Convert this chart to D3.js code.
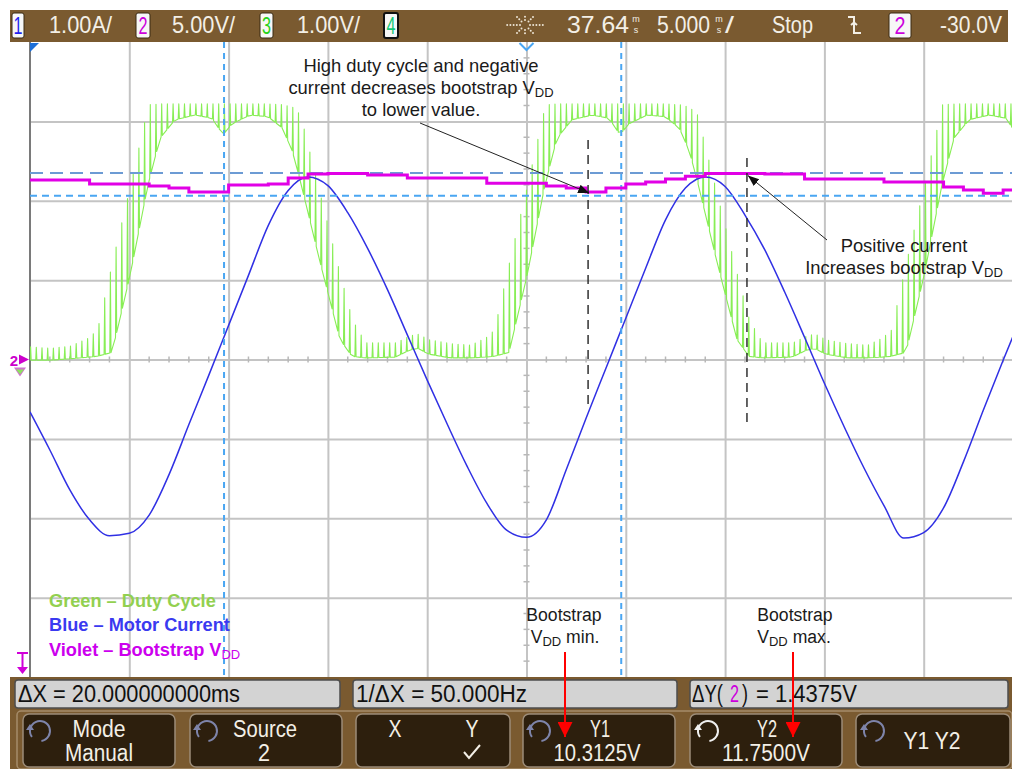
<!DOCTYPE html>
<html>
<head>
<meta charset="utf-8">
<script src="https://cdn.jsdelivr.net/npm/d3@7/dist/d3.min.js"></script>
<style>
  html, body { margin: 0; padding: 0; background: #fff; }
  svg { display: block; }
  text { font-family: "Liberation Sans", Arial, Helvetica, sans-serif; }
</style>
</head>
<body>
<svg id="scope" width="1012" height="769"></svg>
<script>
// ---------- captured data (5 ms/div, 10 div on screen) ----------
// Sample times for channel 1 and channel 2 (ms from left edge of screen)
const sampleMs = [0,1,2,3,4,5,6,7,8,9,10,11,12,13,14,15,16,17,18,19,20,21,22,23,24,25,
  26,27,28,29,30,31,32,33,34,35,36,37,38,39,40,41,42,43,44,45,46,47,48,49,50];

// Channel 1: motor phase current (A), 1.00 A/div
const motorCurrentA = [-0.66,-1.14,-1.64,-2.02,-2.22,-2.19,-1.96,-1.45,-0.82,-0.20,0.43,1.06,
  1.69,2.13,2.30,2.19,1.85,1.40,0.88,0.31,-0.26,-0.81,-1.34,-1.81,-2.15,-2.24,-2.02,-1.39,
  -0.74,-0.11,0.52,1.15,1.76,2.16,2.30,2.18,1.82,1.38,0.85,0.28,-0.30,-0.85,-1.37,-1.84,
  -2.25,-2.18,-1.87,-1.29,-0.64,-0.01,0.60];

// Channel 2: bootstrap supply VDD (V), 5.00 V/div
const bootstrapV = [11.30,11.30,11.30,11.05,11.05,11.05,10.93,10.80,10.55,10.55,10.99,10.99,
  11.05,11.43,11.68,11.71,11.71,11.62,11.62,11.43,11.43,11.43,11.43,11.11,11.11,11.11,10.93,
  10.80,10.55,10.80,11.05,11.18,11.37,11.55,11.71,11.71,11.71,11.68,11.68,11.37,11.37,11.37,
  11.37,11.18,11.18,11.18,10.86,10.67,10.48,10.67,10.99];

// Channel 3: filtered duty-cycle signal (V), 1.00 V/div — PWM ripple envelope
const dutyMs = [0,1.01,2.01,2.92,3.37,4.13,5.04,5.94,6.55,7.30,8.31,9.16,9.72,10.17,11.08,
  11.98,12.69,13.19,13.60,14.60,15.61,16.21,16.87,18.38,19.13,19.54,20.04,21.15,22.16,22.91,
  23.36,24.12,25.03,25.93,26.54,27.29,28.30,29.15,29.71,30.16,31.07,31.97,32.68,33.18,33.59,
  34.59,35.60,36.20,36.86,38.37,39.12,39.53,40.03,41.14,42.15,42.90,43.35,44.11,45.02,45.92,
  46.53,47.28,48.29,49.14,49.70,50.00];
const dutyLowV = [-0.01,-0.01,0.01,0.03,0.04,0.09,1.06,2.20,2.79,3.02,3.08,3.04,2.83,2.97,3.08,
  3.06,2.92,2.64,2.26,1.23,0.25,0.04,0.02,0.03,0.12,0.14,0.07,0.02,0.02,0.03,0.04,0.09,1.06,
  2.20,2.79,3.02,3.08,3.04,2.83,2.97,3.08,3.06,2.92,2.64,2.26,1.23,0.25,0.04,0.02,0.03,0.12,
  0.14,0.07,0.02,0.02,0.03,0.04,0.09,1.06,2.20,2.79,3.02,3.08,3.04,2.83,2.92];
const dutyHighV = [0.16,0.14,0.17,0.27,0.37,1.23,2.20,3.21,3.22,3.22,3.22,3.22,3.22,3.22,3.22,
  3.22,3.21,3.18,3.08,2.07,1.06,0.50,0.21,0.21,0.30,0.32,0.25,0.20,0.18,0.27,0.37,1.23,2.20,
  3.21,3.22,3.22,3.22,3.22,3.22,3.22,3.22,3.22,3.21,3.18,3.08,2.07,1.06,0.50,0.21,0.21,0.30,
  0.32,0.25,0.20,0.18,0.27,0.37,1.23,2.20,3.21,3.22,3.22,3.22,3.22,3.22,3.22];
const pwmPeriodMs = 0.287;

// Cursors
const cursorXMs = [9.77, 29.77];          // X1, X2
const cursorYV = [10.3125, 11.75];        // Y1, Y2 on channel 2

// Annotated instants: VDD minimum and VDD maximum
const markMinMs = 28, markMaxMs = 36;

// Status-line texts
const chanScales = ["1.00A/", "5.00V/", "1.00V/"];
const measureTexts = ["ΔX = 20.000000000ms", "1/ΔX = 50.000Hz"];

// ---------- layout ----------
const svg = d3.select("#scope");
const plotL = 30, plotR = 1012, plotT = 42, plotB = 677;
const x = d3.scaleLinear().domain([0, 50]).range([30, 1023]);
const yDiv = d3.scaleLinear().domain([-4, 4]).range([plotB, plotT]);
const chan = {
  current: { perDiv: 1, offset: 0 },
  vdd:     { perDiv: 5, offset: 0 },
  duty:    { perDiv: 1, offset: 0 }
};
const yOf = c => v => yDiv(v / c.perDiv + c.offset);
const yCur = yOf(chan.current), yVdd = yOf(chan.vdd), yDuty = yOf(chan.duty);

svg.append("rect").attr("width", 1012).attr("height", 769).attr("fill", "#fff");

const defs = svg.append("defs");
defs.append("clipPath").attr("id", "plotClip")
  .append("rect").attr("x", plotL).attr("y", plotT).attr("width", plotR - plotL).attr("height", plotB - plotT);

// ---------- graticule ----------
const grid = svg.append("g");
grid.append("g").attr("transform", `translate(0,${plotB})`)
  .call(d3.axisBottom(x).tickValues([5,10,15,20,25,30,35,40,45]).tickSize(-(plotB - plotT)).tickFormat(""));
grid.append("g").attr("transform", `translate(${plotL},0)`)
  .call(d3.axisLeft(yDiv).tickValues([-3,-2,-1,0,1,2,3]).tickSize(-(plotR - plotL)).tickFormat(""));
grid.selectAll(".domain").remove();
grid.selectAll(".tick line").attr("stroke", "#c4c4c4").attr("stroke-width", 2);

// minor ticks on the centre lines
const minorT = d3.range(0, 50.01, 1);
const minorG = svg.append("g").attr("stroke", "#b8b8b8").attr("stroke-width", 1.5);
minorG.selectAll("line.mh").data(minorT.filter(t => t % 5 !== 0)).join("line")
  .attr("x1", d => x(d)).attr("x2", d => x(d))
  .attr("y1", yDiv(0) - 3).attr("y2", yDiv(0) + 3);
const minorV = d3.range(-4, 4.01, 0.2).filter(v => Math.abs(v - Math.round(v)) > 0.01);
minorG.selectAll("line.mv").data(minorV).join("line")
  .attr("x1", x(25) - 3).attr("x2", x(25) + 3)
  .attr("y1", d => yDiv(d)).attr("y2", d => yDiv(d));

// left border of the screen
svg.append("line").attr("x1", plotL).attr("x2", plotL).attr("y1", plotT).attr("y2", plotB)
  .attr("stroke", "#7a7a7a").attr("stroke-width", 2);

// ---------- traces ----------
const traces = svg.append("g").attr("clip-path", "url(#plotClip)");

// Channel 3: PWM comb between low and high envelope
const lowAt = d3.scaleLinear().domain(dutyMs).range(dutyLowV);
const highAt = d3.scaleLinear().domain(dutyMs).range(dutyHighV);
const combPath = d3.path();
combPath.moveTo(x(0), yDuty(lowAt(0)));
for (let t = 0; t <= 50; t += pwmPeriodMs) {
  const xt = x(t);
  combPath.lineTo(xt, yDuty(lowAt(t)));
  combPath.lineTo(xt + 0.6, yDuty(highAt(t)));
  combPath.lineTo(xt + 1.2, yDuty(lowAt(Math.min(50, t + 0.06))));
}
traces.append("path").attr("d", combPath.toString())
  .attr("fill", "none").attr("stroke", "#88ee55").attr("stroke-width", 1.1).attr("stroke-linejoin", "round");

// Channel 1: motor current
traces.append("path").datum(sampleMs)
  .attr("d", d3.line().x(t => x(t)).y((t, i) => yCur(motorCurrentA[i])).curve(d3.curveMonotoneX))
  .attr("fill", "none").attr("stroke", "#3030e4").attr("stroke-width", 1.5);

// ---------- cursors ----------
const cur = svg.append("g").attr("clip-path", "url(#plotClip)");
cur.selectAll("line.cx").data(cursorXMs).join("line")
  .attr("x1", d => x(d)).attr("x2", d => x(d)).attr("y1", plotT).attr("y2", plotB)
  .attr("stroke", "#4aa6f2").attr("stroke-width", 2).attr("stroke-dasharray", "6 5");
cur.append("line").attr("x1", plotL).attr("x2", plotR)
  .attr("y1", yVdd(cursorYV[0])).attr("y2", yVdd(cursorYV[0]))
  .attr("stroke", "#4aa6f2").attr("stroke-width", 2).attr("stroke-dasharray", "7 5");
cur.append("line").attr("x1", plotL).attr("x2", plotR)
  .attr("y1", yVdd(cursorYV[1])).attr("y2", yVdd(cursorYV[1]))
  .attr("stroke", "#6c9bd4").attr("stroke-width", 2).attr("stroke-dasharray", "13 7");

// Channel 2: bootstrap VDD (drawn on top)
svg.append("g").attr("clip-path", "url(#plotClip)").append("path").datum(sampleMs)
  .attr("d", d3.line().x(t => x(t)).y((t, i) => yVdd(bootstrapV[i])).curve(d3.curveStepAfter))
  .attr("fill", "none").attr("stroke", "#e100e6").attr("stroke-width", 3);

// ---------- screen markers ----------
const mk = svg.append("g");
mk.append("path").attr("d", `M${plotL},${plotT + 1} h9 l-9,9 z`).attr("fill", "#1c6fd8");
mk.append("path").attr("d", `M${x(25) - 7},${plotT + 1} l7,7 l7,-7`).attr("fill", "none")
  .attr("stroke", "#4aa6f2").attr("stroke-width", 2);
// channel 2 / channel 3 ground markers
mk.append("text").attr("x", 14).attr("y", yDiv(0) + 6).attr("text-anchor", "middle")
  .attr("fill", "#cc00cc").style("font-size", "15px").style("font-weight", "bold").text("2");
mk.append("path").attr("d", `M19,${yDiv(0) - 5} l10,5 l-10,5 z`).attr("fill", "#cc00cc");
mk.append("path").attr("d", `M14,${yDiv(0) + 8} h12 l-6,9 z`).attr("fill", "#d070d0");
mk.append("path").attr("d", `M16,${yDiv(0) + 10} h8 l-4,5 z`).attr("fill", "#8ee060");
// trigger level marker
mk.append("path").attr("d", "M17,653 h11 M22.5,653 v16").attr("stroke", "#d000d8").attr("stroke-width", 2);
mk.append("path").attr("d", "M17,667 h11 l-5.5,7 z").attr("fill", "#d000d8");

// ---------- annotations ----------
const ann = svg.append("g").attr("fill", "#1a1a1a").style("font-size", "18.4px");
defs.append("marker").attr("id", "ah").attr("viewBox", "0 0 10 10")
  .attr("refX", 10).attr("refY", 5).attr("markerWidth", 11).attr("markerHeight", 11)
  .attr("orient", "auto").attr("markerUnits", "userSpaceOnUse")
  .append("path").attr("d", "M0,1 L10,5 L0,9 z").attr("fill", "#111");

function subText(g, xc, yb, main, sub, after, opts = {}) {
  const t = g.append("text").attr("x", xc).attr("y", yb).attr("text-anchor", opts.anchor || "middle");
  if (opts.fill) t.attr("fill", opts.fill);
  if (opts.weight) t.style("font-weight", opts.weight);
  t.append("tspan").text(main);
  if (sub) {
    t.append("tspan").attr("dy", 3).style("font-size", "13px").text(sub);
    if (after) t.append("tspan").attr("dy", -3).text(after);
  }
  return t;
}

subText(ann, 421, 72, "High duty cycle and negative");
subText(ann, 421, 94, "current decreases bootstrap V", "DD");
subText(ann, 421, 116, "to lower value.");
subText(ann, 904, 252, "Positive current");
subText(ann, 904, 274, "Increases bootstrap V", "DD");
const annSmall = ann.append("g").style("font-size", "17.6px");
subText(annSmall, 564, 621, "Bootstrap");
subText(annSmall, 565, 643, "V", "DD", " min.");
subText(annSmall, 795, 621, "Bootstrap");
subText(annSmall, 794, 643, "V", "DD", " max.");

// dashed instant markers
[[markMinMs, 140, 410], [markMaxMs, 158, 425]].forEach(([t, y1, y2]) => {
  ann.append("line").attr("x1", x(t) + 2).attr("x2", x(t) + 2).attr("y1", y1).attr("y2", y2)
    .attr("stroke", "#222").attr("stroke-width", 1.4).attr("stroke-dasharray", "9 6");
});
ann.append("line").attr("x1", 420).attr("y1", 123).attr("x2", x(markMinMs) + 3).attr("y2", yVdd(bootstrapV[markMinMs]) + 1)
  .attr("stroke", "#222").attr("stroke-width", 1).attr("marker-end", "url(#ah)");
ann.append("line").attr("x1", 827).attr("y1", 240).attr("x2", x(markMaxMs) + 3).attr("y2", yVdd(bootstrapV[markMaxMs]) + 2)
  .attr("stroke", "#222").attr("stroke-width", 1).attr("marker-end", "url(#ah)");

// legend
const leg = svg.append("g").style("font-size", "18.2px").style("font-weight", "bold");
subText(leg, 49, 607, "Green – Duty Cycle", null, null, { anchor: "start", fill: "#92d050", weight: "bold" });
subText(leg, 49, 631, "Blue – Motor Current", null, null, { anchor: "start", fill: "#3a3af0", weight: "bold" });
const vl = subText(leg, 49, 656, "Violet – Bootstrap V", null, null, { anchor: "start", fill: "#cc00ee", weight: "bold" });
vl.append("tspan").attr("dy", 3).style("font-size", "13px").style("font-weight", "normal").text("DD");

// ---------- status line ----------
const brown = "#7a5a30", ink = "#f3efe6";
const statusBar = svg.append("g");
statusBar.append("rect").attr("x", 10).attr("y", 10).attr("width", 998).attr("height", 32).attr("fill", brown);

function uiText(g, xl, yb, str, len, opts = {}) {
  const t = g.append("text").attr("x", xl).attr("y", yb).attr("fill", opts.fill || ink)
    .style("font-size", (opts.size || 24) + "px").attr("text-anchor", opts.anchor || "start").text(str);
  if (len) t.attr("textLength", len).attr("lengthAdjust", "spacingAndGlyphs");
  return t;
}
// stacked "ms" unit glyph
function msUnit(g, xc) {
  const t = g.append("text").attr("fill", ink).style("font-size", "9px").attr("text-anchor", "middle");
  t.append("tspan").attr("x", xc).attr("y", 22).text("m");
  t.append("tspan").attr("x", xc).attr("y", 33).text("s");
}
function chanBox(x0, w, label, color, border) {
  statusBar.append("rect").attr("x", x0).attr("y", 13).attr("width", w).attr("height", 25).attr("rx", 2)
    .attr("fill", "#f7f7f7").attr("stroke", border || "#3b2a12").attr("stroke-width", border ? 2 : 1);
  uiText(statusBar, x0 + w / 2, 34, label, 9, { fill: color, anchor: "middle" });
}
chanBox(12, 12, "1", "#1f1ff0");
uiText(statusBar, 49, 33, chanScales[0], 63);
chanBox(136, 14, "2", "#cc00dd");
uiText(statusBar, 172, 33, chanScales[1], 63);
chanBox(260, 13, "3", "#2ad21a");
uiText(statusBar, 297, 33, chanScales[2], 63);
chanBox(384, 14, "4", "#14c878", "#111");

// acquisition icon
const sun = statusBar.append("g").attr("fill", "#ece4d4");
[[1,0,18],[-1,0,18],[0,1,11],[0,-1,11],[0.7,0.7,12],[-0.7,0.7,12],[0.7,-0.7,12],[-0.7,-0.7,12]].forEach(([dx, dy, r]) => {
  for (let k = 5; k <= r; k += 3.2) sun.append("circle").attr("cx", 525 + dx * k).attr("cy", 25 + dy * k).attr("r", 1);
});
uiText(statusBar, 567, 33, "37.64", 62);
msUnit(statusBar, 636);
uiText(statusBar, 657, 33, "5.000", 53);
msUnit(statusBar, 719);
uiText(statusBar, 725, 33, "/", 9);
uiText(statusBar, 772, 33, "Stop", 41);
statusBar.append("path").attr("d", "M848,17 h6 v16 h7 M851,25 l3,-2.5 l3,2.5").attr("fill", "none")
  .attr("stroke", ink).attr("stroke-width", 2);
statusBar.append("rect").attr("x", 889).attr("y", 13).attr("width", 22).attr("height", 25).attr("rx", 2)
  .attr("fill", "#f7f7f7").attr("stroke", "#3b2a12");
uiText(statusBar, 900, 34, "2", 11, { fill: "#cc00dd", anchor: "middle" });
uiText(statusBar, 940, 33, "-30.0V", 62);

// ---------- softkey area ----------
const bot = svg.append("g");
bot.append("rect").attr("x", 10).attr("y", plotB).attr("width", 1002).attr("height", 769 - plotB).attr("fill", brown);
[[15, 325], [353, 324], [690, 318]].forEach(([x0, w]) => {
  bot.append("rect").attr("x", x0).attr("y", 680).attr("width", w).attr("height", 28).attr("rx", 3)
    .attr("fill", "#d3d3d3").attr("stroke", "#4e4e4e").attr("stroke-width", 1.5);
});
uiText(bot, 18, 702, measureTexts[0], 222, { fill: "#111", size: 23 });
uiText(bot, 356, 702, measureTexts[1], 171, { fill: "#111", size: 23 });
// ΔY readout, channel number in channel colour
uiText(bot, 692, 702, "ΔY(", 31, { fill: "#111", size: 23 });
uiText(bot, 730, 702, "2", 9, { fill: "#cc00dd", size: 23 });
uiText(bot, 742, 702, ")", 6, { fill: "#111", size: 23 });
uiText(bot, 756, 702, "= 1.4375V", 101, { fill: "#111", size: 23 });

bot.append("rect").attr("x", 17).attr("y", 711).attr("width", 995).attr("height", 58).attr("rx", 4)
  .attr("fill", "none").attr("stroke", "#a58c6a").attr("stroke-width", 1.5);
const keys = [[23, 175], [190, 342], [356, 510], [523, 675], [690, 842], [856, 1010]];
keys.forEach(([a, b]) => {
  bot.append("rect").attr("x", a).attr("y", 714).attr("width", b - a).attr("height", 53).attr("rx", 6)
    .attr("fill", "#2d1f0d").attr("stroke", "#9c8c78").attr("stroke-width", 1.5);
});
function knob(cx, cy, col) {
  const g = bot.append("g").attr("stroke", col).attr("fill", "none").attr("stroke-width", 2);
  g.append("path").attr("d", d3.arc()({ innerRadius: 10, outerRadius: 10, startAngle: -2.2, endAngle: 3.0 }))
    .attr("transform", `translate(${cx},${cy})`);
  bot.append("path").attr("d", `M${cx - 14},${cy - 1} l4,-6 l4,6 z`).attr("fill", col);
}
knob(40, 731, "#7e84aa"); knob(207, 731, "#7e84aa");
knob(540, 731, "#7e84aa"); knob(708, 731, "#f0f0f0"); knob(874, 731, "#7e84aa");
uiText(bot, 99, 737, "Mode", 53, { anchor: "middle", size: 23 });
uiText(bot, 99, 761, "Manual", 68, { anchor: "middle", size: 23 });
uiText(bot, 265, 737, "Source", 64, { anchor: "middle", size: 23 });
uiText(bot, 264, 761, "2", 12, { anchor: "middle", size: 23 });
uiText(bot, 395, 737, "X", 13, { anchor: "middle", size: 23 });
uiText(bot, 472, 737, "Y", 13, { anchor: "middle", size: 23 });
bot.append("path").attr("d", "M464,752 l5,6 l11,-13").attr("fill", "none").attr("stroke", ink).attr("stroke-width", 2);
uiText(bot, 600, 737, "Y1", 20, { anchor: "middle", size: 23 });
uiText(bot, 597, 761, "10.3125V", 87, { anchor: "middle", size: 23 });
uiText(bot, 767, 737, "Y2", 20, { anchor: "middle", size: 23 });
uiText(bot, 766, 761, "11.7500V", 88, { anchor: "middle", size: 23 });
uiText(bot, 932, 749, "Y1 Y2", 57, { anchor: "middle", size: 23 });

// red call-out arrows from the labels to the Y1 / Y2 readouts
defs.append("marker").attr("id", "rh").attr("viewBox", "0 0 10 10")
  .attr("refX", 10).attr("refY", 5).attr("markerWidth", 15).attr("markerHeight", 15)
  .attr("orient", "auto").attr("markerUnits", "userSpaceOnUse")
  .append("path").attr("d", "M0,0 L10,5 L0,10 z").attr("fill", "#ff0000");
[565, 793].forEach(xc => {
  svg.append("line").attr("x1", xc).attr("x2", xc).attr("y1", 652).attr("y2", 737)
    .attr("stroke", "#ff0000").attr("stroke-width", 2).attr("marker-end", "url(#rh)");
});
</script>
</body>
</html>
